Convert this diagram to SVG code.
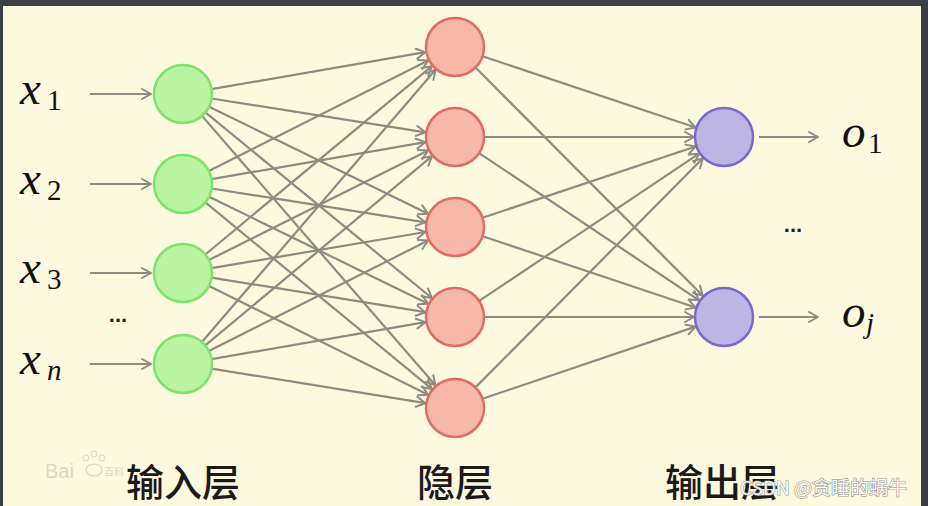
<svg xmlns="http://www.w3.org/2000/svg" width="928" height="506" viewBox="0 0 928 506">
<defs>
<marker id="ah" markerUnits="userSpaceOnUse" markerWidth="14" markerHeight="14" viewBox="-12 -7 14 14" refX="0" refY="0" orient="auto">
<path d="M-9,-5 L0,0 L-9,5" fill="none" stroke="#8c8c82" stroke-width="2" stroke-linecap="round" stroke-linejoin="round"/>
</marker>
<style>
.e{stroke:#8c8c82;stroke-width:2.2;fill:none;marker-end:url(#ah)}
.in{fill:#b9f4a3;stroke:#7de36b;stroke-width:2.5}
.hd{fill:#f8b8a7;stroke:#e06c64;stroke-width:2.5}
.out{fill:#bdb5e4;stroke:#7a69cf;stroke-width:2.5}
.v{font-family:"Liberation Serif",serif;font-style:italic;font-size:47px;fill:#111}
.s{font-family:"Liberation Serif",serif;font-size:29px;fill:#111}
.si{font-family:"Liberation Serif",serif;font-style:italic;font-size:29px;fill:#111}
.cn{font-family:"Noto Sans CJK SC","Noto Sans",sans-serif;font-size:38px;font-weight:500;fill:#1a1a1a;text-anchor:middle}
.dots{font-family:"Liberation Sans",sans-serif;font-size:22px;font-weight:bold;fill:#222;text-anchor:middle}
</style>
</defs>
<rect x="0" y="0" width="928" height="506" fill="#3c3f41"/>
<rect x="3" y="6" width="918" height="500" fill="#fdf9df"/>

<g id="watermark-baidu" opacity="0.35">
<text x="45" y="478" font-family="Liberation Sans,sans-serif" font-size="20" fill="#999">Bai</text>
<circle cx="86" cy="458" r="3" fill="none" stroke="#999" stroke-width="1"/>
<circle cx="94" cy="454" r="3" fill="none" stroke="#999" stroke-width="1"/>
<circle cx="102" cy="458" r="3" fill="none" stroke="#999" stroke-width="1"/>
<ellipse cx="94" cy="470" rx="8" ry="6" fill="none" stroke="#999" stroke-width="1.2"/>
<text x="104" y="476" font-family="Noto Sans CJK SC,sans-serif" font-size="10" fill="#999">百科</text>
</g>

<g id="connectors">
<line class="e" x1="90" y1="94" x2="151" y2="94"/>
<line class="e" x1="90" y1="184" x2="151" y2="184"/>
<line class="e" x1="90" y1="273" x2="151" y2="273"/>
<line class="e" x1="90" y1="364" x2="151" y2="364"/>

<line class="e" x1="211.6" y1="89.1" x2="425.4" y2="52.1"/>
<line class="e" x1="211.6" y1="98.5" x2="425.4" y2="132.3"/>
<line class="e" x1="209.1" y1="106.7" x2="428.1" y2="213.8"/>
<line class="e" x1="205.4" y1="112.4" x2="431.8" y2="298.0"/>
<line class="e" x1="202.0" y1="115.9" x2="435.4" y2="385.3"/>

<line class="e" x1="208.9" y1="171.0" x2="428.2" y2="60.5"/>
<line class="e" x1="211.6" y1="179.1" x2="425.4" y2="142.1"/>
<line class="e" x1="211.6" y1="188.5" x2="425.4" y2="222.3"/>
<line class="e" x1="209.1" y1="196.7" x2="428.1" y2="303.8"/>
<line class="e" x1="205.4" y1="202.4" x2="431.8" y2="388.9"/>

<line class="e" x1="205.3" y1="254.5" x2="431.9" y2="66.2"/>
<line class="e" x1="208.9" y1="260.0" x2="428.2" y2="150.4"/>
<line class="e" x1="211.6" y1="268.2" x2="425.4" y2="232.0"/>
<line class="e" x1="211.6" y1="277.6" x2="425.4" y2="312.2"/>
<line class="e" x1="209.0" y1="285.9" x2="428.1" y2="394.7"/>

<line class="e" x1="201.9" y1="342.0" x2="435.5" y2="69.8"/>
<line class="e" x1="205.3" y1="345.4" x2="432.0" y2="156.2"/>
<line class="e" x1="208.9" y1="351.0" x2="428.2" y2="240.5"/>
<line class="e" x1="211.6" y1="359.1" x2="425.4" y2="322.1"/>
<line class="e" x1="211.6" y1="368.6" x2="425.4" y2="403.2"/>

<line class="e" x1="482.5" y1="56.2" x2="695.6" y2="127.5"/>
<line class="e" x1="484" y1="137" x2="694" y2="137"/>
<line class="e" x1="482.5" y1="217.8" x2="695.6" y2="146.5"/>
<line class="e" x1="479.1" y1="300.9" x2="699.1" y2="153.7"/>
<line class="e" x1="475.4" y1="387.4" x2="702.9" y2="158.3"/>

<line class="e" x1="475.5" y1="67.5" x2="702.8" y2="295.7"/>
<line class="e" x1="479.1" y1="153.1" x2="699.1" y2="300.3"/>
<line class="e" x1="482.5" y1="236.2" x2="695.6" y2="307.5"/>
<line class="e" x1="484" y1="317" x2="694" y2="317"/>
<line class="e" x1="482.5" y1="398.7" x2="695.6" y2="326.6"/>

<line class="e" x1="759" y1="137" x2="818" y2="137"/>
<line class="e" x1="759" y1="317" x2="818" y2="317"/>
</g>

<g id="label-x1"><text class="v" x="20" y="104">x</text><text class="s" x="47" y="110">1</text></g>
<g id="label-x2"><text class="v" x="20" y="194">x</text><text class="s" x="47" y="200">2</text></g>
<g id="label-x3"><text class="v" x="20" y="283">x</text><text class="s" x="47" y="289">3</text></g>
<g id="label-xn"><text class="v" x="20" y="374">x</text><text class="si" x="47" y="380">n</text></g>
<text class="dots" x="118" y="322">...</text>

<g id="input-1"><circle class="in" cx="183" cy="94" r="29"/></g>
<g id="input-2"><circle class="in" cx="183" cy="184" r="29"/></g>
<g id="input-3"><circle class="in" cx="183" cy="273" r="29"/></g>
<g id="input-n"><circle class="in" cx="183" cy="364" r="29"/></g>

<g id="hidden-1"><circle class="hd" cx="455" cy="47" r="29"/></g>
<g id="hidden-2"><circle class="hd" cx="455" cy="137" r="29"/></g>
<g id="hidden-3"><circle class="hd" cx="455" cy="227" r="29"/></g>
<g id="hidden-4"><circle class="hd" cx="455" cy="317" r="29"/></g>
<g id="hidden-5"><circle class="hd" cx="455" cy="408" r="29"/></g>

<g id="output-1"><circle class="out" cx="724" cy="137" r="29"/></g>
<g id="output-j"><circle class="out" cx="724" cy="317" r="29"/></g>

<g id="label-o1"><text class="v" x="842" y="147">o</text><text class="s" x="868" y="153">1</text></g>
<text class="dots" x="793" y="232">...</text>
<g id="label-oj"><text class="v" x="842" y="327">o</text><text class="si" x="866" y="333">j</text></g>

<g id="layer-labels">
<text class="cn" x="183" y="496">输入层</text>
<text class="cn" x="455" y="496">隐层</text>
<text class="cn" x="722" y="496">输出层</text>
</g>

<text x="740" y="495" font-family="Noto Sans CJK SC,Liberation Sans,sans-serif" font-size="19" fill="#ffffff" stroke="#8a8a8a" stroke-width="1.2" paint-order="stroke" opacity="0.9">CSDN @贪睡的蜗牛</text>
</svg>
